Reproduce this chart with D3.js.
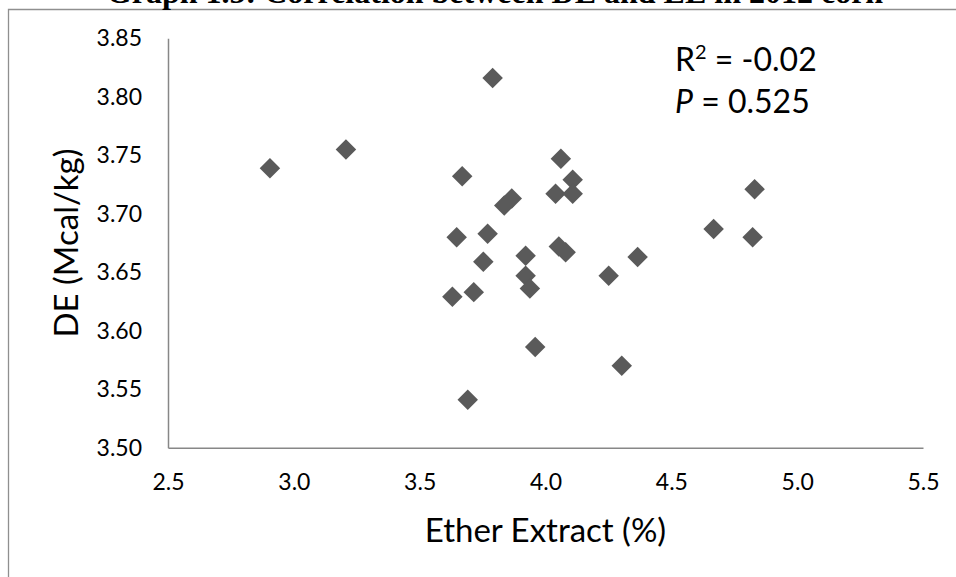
<!DOCTYPE html>
<html>
<head>
<meta charset="utf-8">
<script src="https://cdn.jsdelivr.net/npm/d3@7"></script>
<style>
  body { margin: 0; background: #fff; }
  svg { display: block; }
</style>
</head>
<body>
<div id="chart"></div>
<script>
// Ether extract (%) and DE (Mcal/kg)
const etherExtract = [3.790, 3.207, 2.905, 3.669, 3.836, 3.866, 3.647, 3.770, 3.753, 3.921,
  3.921, 3.938, 3.630, 3.715, 4.061, 4.108, 4.040, 4.108, 4.831, 4.668,
  4.823, 4.053, 4.080, 4.366, 4.251, 3.959, 4.303, 3.691]
const deValues = [3.816, 3.755, 3.739, 3.732, 3.707, 3.713, 3.680, 3.683, 3.659, 3.664,
  3.647, 3.636, 3.629, 3.633, 3.747, 3.729, 3.717, 3.717, 3.721, 3.687,
  3.680, 3.672, 3.667, 3.663, 3.647, 3.586, 3.570, 3.541]
const xTicks = [2.5, 3.0, 3.5, 4.0, 4.5, 5.0, 5.5]
const yTicks = [3.50, 3.55, 3.60, 3.65, 3.70, 3.75, 3.80, 3.85]

const width = 956
const height = 577
const font = "Lato, 'Open Sans', sans-serif"

const svg = d3.select("#chart").append("svg")
  .attr("width", width)
  .attr("height", height)

// outer frame (only top and left edges show)
svg.append("path")
  .attr("d", `M8.5,${height} V9.5 H${width}`)
  .attr("fill", "none")
  .attr("stroke", "#8f8f8f")
  .attr("stroke-width", 1.3)

// title, cut off by the top edge like in the source
svg.append("text")
  .attr("x", 495)
  .attr("y", 3)
  .attr("text-anchor", "middle")
  .style("font-family", "'Liberation Serif', 'Times New Roman', serif")
  .style("font-weight", "bold")
  .style("font-size", "32px")
  .text("Graph 1.5: Correlation between DE and EE in 2012 corn")

const x = d3.scaleLinear().domain([2.5, 5.5]).range([168, 923])
const y = d3.scaleLinear().domain([3.5, 3.85]).range([447.7, 38.3])

const xAxis = svg.append("g")
  .attr("transform", `translate(0,${y(3.5)})`)
  .call(d3.axisBottom(x).tickValues(xTicks).tickFormat(d3.format(".1f")).tickSize(0).tickPadding(0))
xAxis.select(".domain").attr("stroke", "#878787").attr("stroke-width", 1.5)
xAxis.selectAll("text")
  .attr("y", 34.5)
  .attr("dy", "0.35em")
  .style("font-family", font)
  .style("font-size", "23px")
  .attr("fill", "#000")

const yAxis = svg.append("g")
  .attr("transform", `translate(${x(2.5)},0)`)
  .call(d3.axisLeft(y).tickValues(yTicks).tickFormat(d3.format(".2f")).tickSize(0).tickPadding(26))
yAxis.select(".domain").attr("stroke", "#878787").attr("stroke-width", 1.5)
yAxis.selectAll("text")
  .style("font-family", font)
  .style("font-size", "23px")
  .attr("fill", "#000")

// points
const diamond = d3.symbol().type(d3.symbolSquare).size(210)
svg.append("g").selectAll("path")
  .data(etherExtract.map((e, i) => ({ee: e, de: deValues[i]})))
  .join("path")
  .attr("d", diamond)
  .attr("transform", d => `translate(${x(d.ee)},${y(d.de)}) rotate(45)`)
  .attr("fill", "#5a5a5a")

// axis titles
svg.append("text")
  .attr("x", (x(2.5) + x(5.5)) / 2)
  .attr("y", 541.7)
  .attr("text-anchor", "middle")
  .style("font-family", font)
  .style("font-size", "33px")
  .text("Ether Extract (%)")

svg.append("text")
  .attr("transform", "translate(78,243) rotate(-90)")
  .attr("text-anchor", "middle")
  .style("font-family", font)
  .style("font-size", "33px")
  .text("DE (Mcal/kg)")

// stats annotation
const r2 = svg.append("text")
  .attr("x", 675)
  .attr("y", 70.7)
  .style("font-family", font)
  .style("font-size", "32px")
r2.append("tspan").text("R")
r2.append("tspan").attr("dy", -12).style("font-size", "20px").text("2")
r2.append("tspan").attr("dy", 12).text(" = -0.02")

const pv = svg.append("text")
  .attr("x", 675)
  .attr("y", 113.3)
  .style("font-family", font)
  .style("font-size", "32px")
pv.append("tspan").style("font-style", "italic").text("P")
pv.append("tspan").text(" = 0.525")
</script>
</body>
</html>
